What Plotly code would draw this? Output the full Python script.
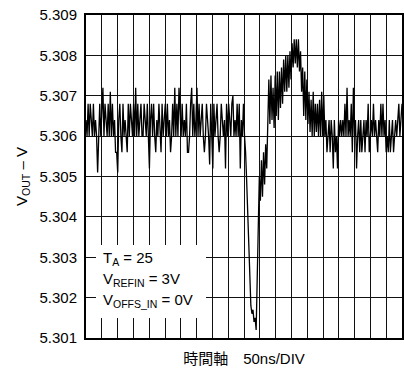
import plotly.graph_objects as go

# Captured VOUT samples (V)
baseline_pre = [
    5.3064, 5.3060, 5.3068, 5.3060, 5.3068, 5.3064, 5.3060, 5.3068, 5.3060, 5.3064,
    5.3060, 5.3051, 5.3064, 5.3068, 5.3060, 5.3068, 5.3072, 5.3060, 5.3068, 5.3064,
    5.3060, 5.3068, 5.3060, 5.3071, 5.3060, 5.3068, 5.3060, 5.3064, 5.3056, 5.3056,
    5.3051, 5.3064, 5.3068, 5.3060, 5.3056, 5.3068, 5.3060, 5.3064, 5.3060, 5.3056,
    5.3068, 5.3060, 5.3068, 5.3064, 5.3060, 5.3068, 5.3060, 5.3072, 5.3060, 5.3068,
    5.3060, 5.3064, 5.3068, 5.3060, 5.3060, 5.3068, 5.3064, 5.3060, 5.3068, 5.3056,
    5.3052, 5.3064, 5.3068, 5.3060, 5.3068, 5.3060, 5.3056, 5.3064, 5.3060, 5.3068,
    5.3060, 5.3056, 5.3068, 5.3060, 5.3064, 5.3068, 5.3060, 5.3068, 5.3060, 5.3064,
    5.3056, 5.3060, 5.3068, 5.3060, 5.3072, 5.3060, 5.3068, 5.3060, 5.3072, 5.3064,
    5.3060, 5.3068, 5.3060, 5.3064, 5.3060, 5.3068, 5.3056, 5.3056, 5.3060, 5.3068,
    5.3072, 5.3060, 5.3068, 5.3060, 5.3064, 5.3072, 5.3060, 5.3068, 5.3060, 5.3064,
    5.3068, 5.3060, 5.3056, 5.3060, 5.3068, 5.3064, 5.3060, 5.3053, 5.3068, 5.3060,
    5.3052, 5.3068, 5.3060, 5.3064, 5.3068, 5.3060, 5.3056, 5.3060, 5.3068, 5.3064,
    5.3060, 5.3064, 5.3052, 5.3068, 5.3060, 5.3068, 5.3064, 5.3060, 5.3068, 5.3070,
    5.3060, 5.3064, 5.3060, 5.3068, 5.3060, 5.3068, 5.3052, 5.3064, 5.3060, 5.3068,
    5.3060,
]
dip = [
    5.3056, 5.3049, 5.3040, 5.3030, 5.3021, 5.3018, 5.3016, 5.3017, 5.3014, 5.3015,
    5.3012, 5.3028, 5.3044, 5.3050, 5.3044, 5.3054, 5.3045, 5.3056, 5.3048, 5.3058,
    5.3052,
]
bump = [
    5.3066, 5.3074, 5.3063, 5.3075, 5.3064, 5.3072, 5.3062, 5.3075, 5.3065, 5.3076,
    5.3064, 5.3076, 5.3067, 5.3077, 5.3068, 5.3079, 5.3071, 5.3080, 5.3071, 5.3080,
    5.3072, 5.3081, 5.3074, 5.3083, 5.3077, 5.3084, 5.3078, 5.3084, 5.3077, 5.3084,
    5.3076, 5.3081, 5.3071, 5.3077, 5.3065, 5.3076, 5.3064, 5.3074, 5.3063, 5.3071,
    5.3061, 5.3069, 5.3060, 5.3071, 5.3060, 5.3068, 5.3061, 5.3068, 5.3060, 5.3069,
    5.3060, 5.3071, 5.3060, 5.3070, 5.3060, 5.3064, 5.3056,
]
baseline_post = [
    5.3060, 5.3064, 5.3056, 5.3064, 5.3060, 5.3052, 5.3064, 5.3056, 5.3060, 5.3052,
    5.3064, 5.3060, 5.3064, 5.3060, 5.3064, 5.3060, 5.3068, 5.3060, 5.3072, 5.3060,
    5.3064, 5.3060, 5.3068, 5.3056, 5.3072, 5.3060, 5.3064, 5.3052, 5.3060, 5.3064,
    5.3056, 5.3064, 5.3056, 5.3060, 5.3064, 5.3056, 5.3064, 5.3060, 5.3068, 5.3056,
    5.3060, 5.3064, 5.3060, 5.3068, 5.3060, 5.3064, 5.3060, 5.3056, 5.3064, 5.3060,
    5.3068, 5.3060, 5.3068, 5.3060, 5.3064, 5.3056, 5.3060, 5.3056, 5.3064, 5.3056,
    5.3060, 5.3064, 5.3056, 5.3060, 5.3064, 5.3060, 5.3064, 5.3068, 5.3060, 5.3064,
    5.3068,
]

y_ticks = [5.301, 5.302, 5.303, 5.304, 5.305, 5.306, 5.307, 5.308, 5.309]
y_tick_labels = ["5.301", "5.302", "5.303", "5.304", "5.305", "5.306", "5.307", "5.308", "5.309"]
n_divisions = 20

vout = baseline_pre + dip + bump + baseline_post
n = len(vout)
sample = list(range(n))

FONT = "Liberation Sans, Arial, Noto Sans CJK JP, sans-serif"

fig = go.Figure()
fig.add_trace(go.Scatter(x=sample, y=vout, mode="lines",
                         line=dict(color="black", width=1.3), showlegend=False,
                         hoverinfo="skip"))

fig.update_layout(
    width=404, height=369,
    margin=dict(l=86, r=2, t=15, b=31),
    paper_bgcolor="white", plot_bgcolor="white",
    font=dict(family=FONT, size=15, color="black"),
    xaxis=dict(
        range=[0, n - 1], tick0=0, dtick=(n - 1) / n_divisions,
        showgrid=True, gridcolor="#111", gridwidth=1,
        showticklabels=False, ticks="", zeroline=False,
        showline=True, linecolor="black", linewidth=2, mirror=True,
        title=dict(text="時間軸\u300050ns/DIV", standoff=14,
                   font=dict(size=15, family=FONT)),
        automargin=False,
    ),
    yaxis=dict(
        range=[5.301, 5.309], tickvals=y_ticks, ticktext=y_tick_labels,
        showgrid=True, gridcolor="#111", gridwidth=1,
        ticks="", ticklabelstandoff=4, zeroline=False,
        showline=True, linecolor="black", linewidth=2, mirror=True,
        title=dict(text="V<sub>OUT</sub> – V", standoff=8,
                   font=dict(size=15, family=FONT)),
        automargin=False,
    ),
)

# white box behind the condition text (hides the grid there)
fig.add_shape(type="rect", xref="paper", yref="paper",
              x0=10 / 316, x1=120 / 316, y0=20 / 323, y1=93 / 323,
              fillcolor="white", line=dict(width=0), layer="above")

cond = [
    ("T<sub>A</sub> = 25", 5.30298),
    ("V<sub>REFIN</sub> = 3V", 5.30246),
    ("V<sub>OFFS_IN</sub> = 0V", 5.30194),
]
for txt, yy in cond:
    fig.add_annotation(xref="paper", yref="y", x=15 / 316, y=yy,
                       text=txt, showarrow=False, xanchor="left", yanchor="middle",
                       font=dict(size=15, family=FONT, color="black"))

fig.write_html("out.html", config={"displayModeBar": False},
               post_script="document.body.style.margin='0';document.body.style.overflow='hidden';")
